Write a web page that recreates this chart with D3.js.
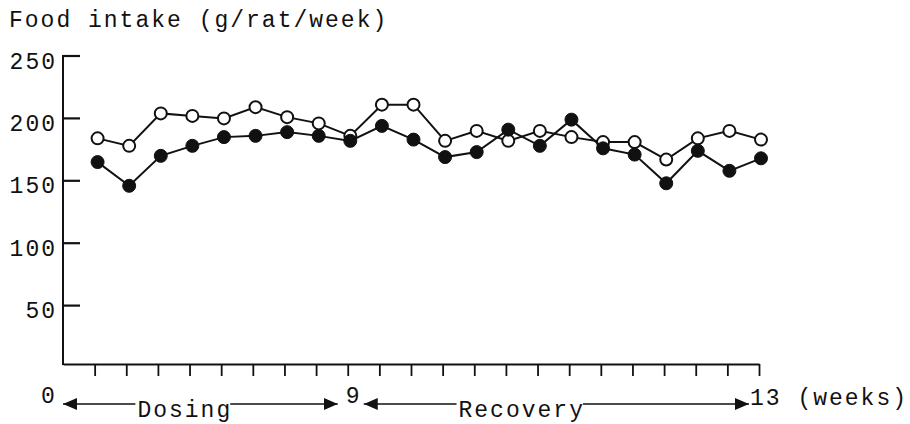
<!DOCTYPE html>
<meta charset="utf-8">
<style>
  body { margin: 0; background: #fff; }
  text { font-family: "Courier New", "Liberation Mono", monospace; font-size: 23px; letter-spacing: 2px; fill: #111; }
</style>
<script src="https://d3js.org/d3.v7.min.js"></script>
<div id="my_dataviz"></div>
<script>
// data (half-weekly points, index 1..22)
var pointIndex = d3.range(1, 23);
var openSeries = [184, 178, 204, 202, 200, 209, 201, 196, 186, 211, 211, 182, 190, 182, 190, 185, 181, 181, 167, 184, 190, 183];
var filledSeries = [165, 146, 170, 178, 185, 186, 189, 186, 182, 194, 183, 169, 173, 191, 178, 199, 176, 171, 148, 174, 158, 168];
var yTicks = [50, 100, 150, 200, 250];
var xTickIndex = d3.range(1, 23);
var xLabels = [{i: 0, t: "0"}, {i: 9, t: "9"}, {i: 22, t: "13 (weeks)"}];
var phases = [{from: 0, to: 9, mid: 3.85, t: "Dosing"}, {from: 9, to: 22, mid: 14.5, t: "Recovery"}];

var width = 910, height = 424;
var xAxisY = 364;
var ink = "#111";

var svg = d3.select("#my_dataviz")
  .append("svg")
  .attr("width", width)
  .attr("height", height);

var x = d3.scaleLinear().domain([0, 22]).range([63, 759]);
var y = d3.scaleLinear().domain([0, 250]).range([368, 56]);

// title
svg.append("text")
  .attr("x", 9)
  .attr("y", 27)
  .text("Food intake (g/rat/week)");

// y axis: line, ticks pointing inside, labels outside
svg.append("line")
  .attr("x1", x(0)).attr("x2", x(0))
  .attr("y1", y(250) - 1).attr("y2", xAxisY + 1)
  .attr("stroke", ink).attr("stroke-width", 2);
svg.selectAll("yTick")
  .data(yTicks).enter()
  .append("line")
  .attr("x1", x(0)).attr("x2", x(0) + 17)
  .attr("y1", function(d) { return y(d); })
  .attr("y2", function(d) { return y(d); })
  .attr("stroke", ink).attr("stroke-width", 2.2);
svg.selectAll("yLabel")
  .data(yTicks).enter()
  .append("text")
  .attr("text-anchor", "end")
  .attr("x", x(0) - 6)
  .attr("y", function(d) { return y(d); })
  .attr("dy", "0.55em")
  .text(function(d) { return d; });

// x axis: ticks pointing down, no labels
var xAxis = svg.append("g")
  .attr("transform", "translate(0," + xAxisY + ")")
  .call(d3.axisBottom(x).tickValues(xTickIndex).tickSizeInner(12).tickSizeOuter(0).tickFormat(""));
xAxis.select(".domain").attr("stroke", ink).attr("stroke-width", 2);
xAxis.selectAll("line").attr("stroke", ink).attr("stroke-width", 1.8);

// x labels
svg.selectAll("xLabel")
  .data(xLabels).enter()
  .append("text")
  .attr("x", function(d) { return d.i === 0 ? x(d.i) - 22 : (d.i === 9 ? x(d.i) - 2 : x(d.i) - 9); })
  .attr("y", function(d) { return d.i === 22 ? 405 : 403; })
  .text(function(d) { return d.t; });

// phase arrows
var arrowY = 404;
svg.append("defs").append("marker")
  .attr("id", "head")
  .attr("viewBox", "0 0 14 12")
  .attr("refX", 14).attr("refY", 6)
  .attr("markerWidth", 14).attr("markerHeight", 12)
  .attr("markerUnits", "userSpaceOnUse")
  .attr("orient", "auto-start-reverse")
  .append("path").attr("d", "M0,0L14,6L0,12Z").attr("fill", ink);

phases.forEach(function(p) {
  var x0 = x(p.from) + (p.from === 0 ? 0 : 16);
  var x1 = x(p.to) - 10;
  var label = svg.append("text")
    .attr("text-anchor", "middle")
    .attr("x", x(p.mid))
    .attr("y", 417)
    .text(p.t);
  var bb = label.node().getBBox();
  svg.append("line")
    .attr("x1", x0).attr("x2", bb.x - 2)
    .attr("y1", arrowY).attr("y2", arrowY)
    .attr("stroke", ink).attr("stroke-width", 1.6)
    .attr("marker-start", "url(#head)");
  svg.append("line")
    .attr("x1", bb.x + bb.width - 2).attr("x2", x1)
    .attr("y1", arrowY).attr("y2", arrowY)
    .attr("stroke", ink).attr("stroke-width", 1.6)
    .attr("marker-end", "url(#head)");
});

// series (points sit a few px right of the ticks in the original)
var px = d3.scaleLinear().domain([0, 22]).range([66, 761]);
var line = d3.line()
  .x(function(d, i) { return px(pointIndex[i]); })
  .y(function(d) { return y(d); });

function drawSeries(values, filled) {
  svg.append("path")
    .datum(values)
    .attr("d", line)
    .attr("fill", "none")
    .attr("stroke", ink)
    .attr("stroke-width", 2);
  svg.selectAll(null)
    .data(values).enter()
    .append("circle")
    .attr("cx", function(d, i) { return px(pointIndex[i]); })
    .attr("cy", function(d) { return y(d); })
    .attr("r", filled ? 6.5 : 6)
    .attr("fill", filled ? ink : "#fff")
    .attr("stroke", ink)
    .attr("stroke-width", filled ? 1 : 2);
}
drawSeries(openSeries, false);
drawSeries(filledSeries, true);
</script>
